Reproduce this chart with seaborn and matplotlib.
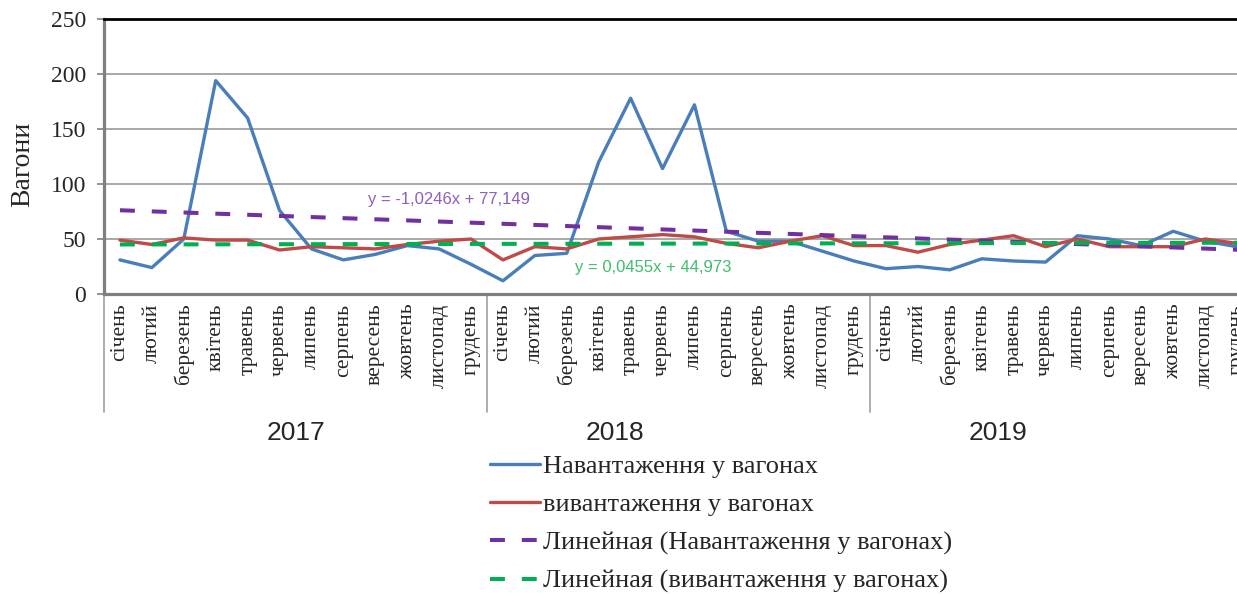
import matplotlib.pyplot as plt
import numpy as np
import seaborn as sns

# data
months = ['січень', 'лютий', 'березень', 'квітень', 'травень', 'червень',
          'липень', 'серпень', 'вересень', 'жовтень', 'листопад', 'грудень']
years = ['2017', '2018', '2019']
year_label_pos = [5.5, 15.5, 27.5]

loading = [31, 24, 50, 194, 160, 76, 41, 31, 36, 44, 41, 27,
           12, 35, 37, 120, 178, 114, 172, 57, 48, 48, 39, 30,
           23, 25, 22, 32, 30, 29, 53, 50, 44, 57, 48, 43]
unloading = [49, 45, 51, 49, 49, 40, 43, 42, 41, 45, 48, 50,
             31, 43, 41, 50, 52, 54, 52, 46, 42, 48, 53, 44,
             44, 38, 45, 49, 53, 43, 50, 43, 43, 43, 50, 46]

# trend lines as printed on the chart (x = 1..36)
trend_load = (-1.0246, 77.149)
trend_unload = (0.0455, 44.973)

labels = ['Навантаження у вагонах', 'вивантаження у вагонах',
          'Линейная (Навантаження у вагонах)', 'Линейная (вивантаження у вагонах)']

sns.set_style('white')
plt.rcParams['font.family'] = ['Liberation Serif', 'DejaVu Serif']

idx = np.arange(len(loading))
xs = idx + 1
tl = trend_load[0] * xs + trend_load[1]
tu = trend_unload[0] * xs + trend_unload[1]

fig = plt.figure(figsize=(12.37, 5.95), dpi=100)
ax = fig.add_axes([104 / 1237, 1 - 294 / 595, 1149 / 1237, 275 / 595])

sns.lineplot(x=idx, y=loading, ax=ax, color='#4a7ebb', linewidth=2.4, label=labels[0], zorder=3)
sns.lineplot(x=idx, y=unloading, ax=ax, color='#be4b48', linewidth=2.4, label=labels[1], zorder=3)
sns.lineplot(x=idx, y=tl, ax=ax, color='#7030a0', linewidth=2.9,
             linestyle=(0, (3.7, 4.2)), label=labels[2], zorder=4)
sns.lineplot(x=idx, y=tu, ax=ax, color='#00b050', linewidth=2.9,
             linestyle=(0, (3.7, 4.2)), label=labels[3], zorder=4)

ax.set_xlim(-0.5, len(idx) - 0.5)
ax.set_ylim(0, 250)
ax.set_yticks(range(0, 251, 50))
ax.tick_params(axis='y', labelsize=17, length=5, width=1.2, color='#808080',
               direction='out', left=True, pad=8)
ax.grid(axis='y', color='#9a9a9a', linewidth=1.2)
ax.set_axisbelow(True)

# month labels between separators (Excel category style)
ax.set_xticks(np.arange(-0.5, len(idx), 1.0))
ax.set_xticklabels([])
ax.tick_params(axis='x', which='major', length=75, width=1.2, color='#a0a0a0', direction='out')
ax.set_xticks(idx, minor=True)
ax.set_xticklabels(months * 3, minor=True, rotation=90, fontsize=15.5, color='#262626')
ax.tick_params(axis='x', which='minor', length=0, pad=7)

# year separators and labels
trans = ax.get_xaxis_transform()
for b in [-0.5, 11.5, 23.5]:
    ax.plot([b, b], [0, -0.43], transform=trans, color='#a0a0a0', lw=1.2, clip_on=False)
for pos, yr in zip(year_label_pos, years):
    ax.text(pos, -0.505, yr, transform=trans, ha='center', va='center',
            fontsize=19, family='Liberation Sans', color='#262626')

for s in ['left', 'bottom']:
    ax.spines[s].set_color('#7f7f7f')
    ax.spines[s].set_linewidth(2.3)
ax.spines['top'].set_color('black')
ax.spines['top'].set_linewidth(2)
ax.spines['right'].set_visible(False)

ax.set_ylabel('Вагони', fontsize=20)
ax.yaxis.set_label_coords(-0.06, 0.47)

# trend equations
ax.text(10.3, 86, 'y = -1,0246x + 77,149', ha='center', va='center', fontsize=12,
        family='Liberation Sans', color='#8d5fbf')
ax.text(16.7, 24.5, 'y = 0,0455x + 44,973', ha='center', va='center', fontsize=12,
        family='Liberation Sans', color='#3fbf6c')

handles, labs = ax.get_legend_handles_labels()
ax.get_legend().remove()
fig.legend(handles, labs, loc='upper left', bbox_to_anchor=(490 / 1237, 1 - 455 / 595),
           frameon=False, fontsize=19, borderpad=0, borderaxespad=0,
           handlelength=1.9, handletextpad=0.1, labelspacing=0.55)

fig.savefig('out.png', dpi=100)
